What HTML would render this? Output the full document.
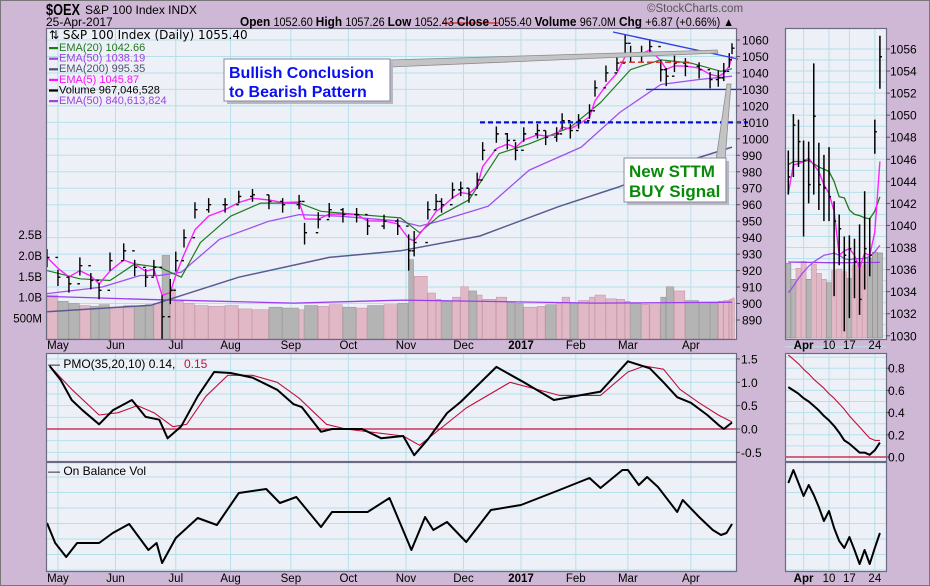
<!DOCTYPE html>
<html><head><meta charset="utf-8">
<style>
html,body{margin:0;padding:0;background:#cfb8d6;}
svg{display:block;font-family:"Liberation Sans",sans-serif;}
</style></head>
<body>
<svg id="chart" width="930" height="586" viewBox="0 0 930 586" xmlns="http://www.w3.org/2000/svg">
<rect x="0" y="0" width="930" height="586" fill="#cfb8d6"/>
<rect x="0.5" y="0.5" width="929" height="585" fill="none" stroke="#777"/>
<g id="layers"></g>
</svg>
<script>
// ---------- DATA ----------
const closeDays = [0,4,8,12,16,19,23,28,32,36,39,42,45,47,50,54,59,65,70,75,81,86,92,94,99,103,108,113,117,123,128,132,134,139,142,144,148,151,154,157,159,164,168,171,174,179,182,186,188,191,194,198,200,204,208,211,213,217,220,224,226,229,233,238,242,245,247,249,250];
const closes = [928,916,912,923,914,908,926,932,922,916,922,892,908,926,940,957,960,960,965,966,962,960,962,943,951,957,954,954,947,950,947,932,937,957,962,960,969,970,966,975,993,1003,999,993,1003,1005,1001,1003,1011,1005,1011,1017,1031,1040,1046,1058,1052,1052,1056,1042,1038,1046,1044,1042,1036,1037,1041,1048,1055];
const ranges = [10,9,9,10,9,9,10,9,9,10,9,26,14,11,10,9,8,8,7,7,8,8,8,12,9,8,8,8,9,8,9,20,14,10,9,8,9,8,8,9,10,9,9,10,8,8,8,8,9,8,8,8,9,9,8,10,9,9,9,12,10,9,10,9,9,9,10,8,6];
const volumes = [1050,900,850,800,780,820,760,800,780,820,850,2000,1200,900,850,800,780,800,720,700,760,740,700,800,780,820,760,740,800,820,850,1900,1500,1100,950,900,1000,1250,1150,1050,950,1000,880,850,760,780,820,860,1000,870,920,1000,1050,960,950,900,850,830,820,1000,1250,1150,920,880,860,900,920,950,980];
const volEmaDays = [0,40,90,130,160,200,230,250];
const volEma = [1020,940,860,930,900,860,870,880];
const ema200Days = [0,38,70,103,129,158,187,209,231,250];
const ema200 = [895,899,916,928,932,941,959,971,985,995];
const ema50Days = [0,20,34,41,49,63,81,92,107,129,136,143,161,176,195,209,224,238,250];
const ema50 = [906,910,917,917,919,939,950,954,953,950,947,950,959,981,995,1016,1033,1036,1038];
const ema20Days = [0,12,23,32,41,49,56,67,78,92,100,114,129,136,143,154,165,176,191,202,213,224,235,246,250];
const ema20 = [920,915,914,924,922,916,937,953,961,961,956,954,952,943,953,963,991,997,1007,1022,1042,1048,1046,1041,1042.6];
const pmoDays = [1,5,9,13,19,24,31,36,41,44,49,55,61,67,75,84,90,93,100,104,115,122,130,134,139,146,151,164,174,185,202,212,220,225,230,235,241,245,247,250];
const pmo = [1.35,1.05,0.62,0.4,0.1,0.4,0.62,0.26,0.2,-0.2,0.06,0.7,1.22,1.2,1.1,0.84,0.53,0.47,-0.06,0,0,-0.2,-0.15,-0.56,-0.22,0.34,0.58,1.33,1.0,0.62,0.8,1.45,1.3,1.0,0.68,0.56,0.3,0.09,0.0,0.14];
const sigDays = [1,9,19,26,33,39,46,51,58,66,75,84,92,102,109,130,136,153,169,187,202,212,218,225,231,238,245,250];
const pmoSignal = [1.35,0.85,0.3,0.35,0.5,0.35,0.05,0.1,0.7,1.15,1.15,1.0,0.66,0.1,0,-0.15,-0.35,0.45,1.0,0.72,0.72,1.22,1.35,1.28,0.85,0.56,0.3,0.15];
const obvDays = [0,3,7,11,19,24,30,37,40,42,47,55,62,70,80,85,91,100,104,117,125,133,138,141,146,153,162,173,187,198,202,210,212,216,219,223,230,232,238,243,246,248,250];
const obv = [12,7,3.5,7,7,9.5,11.75,5.25,7,2,8.25,13.25,11.5,19.5,20.5,17,18.5,11,14.75,14.75,18.25,5.25,13.5,10.25,12.25,7.25,15.25,16.5,20.25,23.25,20.75,25.25,25.25,21.5,23.5,21,14.75,17.75,13.5,10.25,9,9.5,11.75];
const monthDays = [4,25,47,67,89,110,131,152,173,193,212,235];
const monthLabels = ["May","Jun","Jul","Aug","Sep","Oct","Nov","Dec","2017","Feb","Mar","Apr"];
const priceTicks = [1060,1050,1040,1030,1020,1010,1000,990,980,970,960,950,940,930,920,910,900,890];
const volTickVals = [2500,2000,1500,1000,500];
const volTickLabels = ["2.5B","2.0B","1.5B","1.0B","500M"];
const pmoTicks = [1.5,1.0,0.5,0.0,-0.5];
// right (zoom) panel
const rHighs = [1046.8,1050.1,1049.6,1047.7,1047.6,1054.7,1047.5,1046.4,1047.1,1042.2,1041,1039,1039.1,1038.8,1040.1,1043.1,1040.7,1049.6,1057.2];
const rLows = [1042.8,1044.4,1045.3,1039,1042,1042.8,1041.4,1040.4,1040.4,1033.6,1036.4,1030.4,1031.6,1033.4,1031.9,1034.2,1035.4,1046.5,1052.4];
const rCloses = [1044.4,1049.1,1047.6,1045.9,1043.7,1049.9,1043.7,1043.4,1042.6,1040.4,1039.7,1037.3,1037.9,1036.7,1033.3,1037.9,1037.3,1048.5,1055.3];
const rEma5 = [1042.9,1045.5,1045.6,1045.8,1046.1,1045.5,1044.9,1043.7,1042.9,1041.3,1037.3,1037.7,1037.9,1037.3,1036.1,1037.5,1037.3,1039.4,1045.8];
const rEma20 = [1045.5,1045.8,1045.8,1045.8,1045.9,1045.6,1045.3,1045.1,1044.9,1044.0,1042.6,1042.5,1041.4,1041.0,1040.9,1040.7,1040.6,1041.3,1042.6];
const rEma50 = [1033.9,1034.5,1035.2,1035.8,1036.3,1036.7,1037.0,1037.3,1037.4,1037.5,1037.3,1037.0,1036.9,1037.0,1037.0,1037.0,1037.2,1037.6,1038.2];
const rVolumes = [880,690,820,900,690,870,760,690,650,790,810,780,700,860,840,860,940,1010,1000];
const rVolUp = [0,0,1,1,0,1,1,1,0,1,1,1,0,1,1,1,0,0,0];
const rVolEma = [894,893,892,891,890,889,888,887,886,886,886,886,886,886,887,887,888,888,889];
const rPmo = [0.63,0.6,0.57,0.53,0.5,0.46,0.42,0.37,0.33,0.28,0.22,0.15,0.12,0.08,0.04,0.04,0.02,0.06,0.13];
const rSignal = [0.92,0.88,0.84,0.79,0.75,0.7,0.66,0.62,0.57,0.53,0.48,0.43,0.37,0.32,0.27,0.22,0.17,0.15,0.15];
const rObv = [22,25.25,22,18.75,21.5,19,16,12.5,15,10.75,7.5,5.75,8.5,5.25,1.75,5.25,1.75,5.75,9.5];
const rDayTicks = [3,8,12,17];
const rDayLabels = ["Apr","10","17","24"];
const rPriceTicks = [1056,1054,1052,1050,1048,1046,1044,1042,1040,1038,1036,1034,1032,1030];
const rPmoTicks = [0.8,0.6,0.4,0.2,0.0];

// ---------- SCALES ----------
const M = {l:46,r:736,t:28,b:339};
const P = {t:353,b:461}, O = {t:462,b:571};
const R = {l:785,r:886};
const xD = d => 47 + d*2.74;
const yP = v => 40 + (1060 - v)*1.647;
const yV = v => 339 - v*0.0418;
const yPmo = v => 429 - v*46.7;
const yObv = v => 571 - v*4;
const xR = i => 788.3 + i*5.09;
const yRP = v => 49 + (1056 - v)*11.03;
const yRV = v => 338 - v*0.085;
const yRPmo = v => 457 - v*111;
const yRObv = v => 571 - v*4;

const NS = "http://www.w3.org/2000/svg";
const root = document.getElementById('layers');
function mk(tag, attrs, parent){
  const e = document.createElementNS(NS, tag);
  for (const k in attrs) e.setAttribute(k, attrs[k]);
  (parent||root).appendChild(e);
  return e;
}
function pathFrom(xs, ys){ return xs.map((x,i)=>(i?'L':'M')+x.toFixed(1)+','+ys[i].toFixed(1)).join(''); }

const defs = mk('defs',{});
[['cm',M.l,M.t,M.r-M.l,M.b-M.t],['cp',M.l,P.t,M.r-M.l,P.b-P.t],['co',M.l,O.t,M.r-M.l,O.b-O.t],
 ['rm',R.l,M.t,R.r-R.l,M.b-M.t],['rp',R.l,P.t,R.r-R.l,P.b-P.t],['ro',R.l,O.t,R.r-R.l,O.b-O.t]].forEach(c=>{
  const cp = mk('clipPath',{id:c[0]},defs); mk('rect',{x:c[1],y:c[2],width:c[3],height:c[4]},cp);
});

function panel(name,x1,y1,x2,y2){
  const r = mk('rect',{x:x1,y:y1,width:x2-x1,height:y2-y1,fill:'#eef0f8'});
  
  
}
panel('price-panel',M.l,M.t,M.r,M.b); panel('pmo-panel',M.l,P.t,M.r,P.b); panel('obv-panel',M.l,O.t,M.r,O.b);
panel('zoom-price-panel',R.l,M.t,R.r,M.b); panel('zoom-pmo-panel',R.l,P.t,R.r,P.b); panel('zoom-obv-panel',R.l,O.t,R.r,O.b);

const grid = mk('g',{stroke:'#b5e0ea','stroke-width':1});


priceTicks.forEach(v=>mk('line',{x1:M.l,x2:M.r,y1:yP(v),y2:yP(v)},grid));
for(let v=-0.5; v<=1.51; v+=0.25) mk('line',{x1:M.l,x2:M.r,y1:yPmo(v),y2:yPmo(v)},grid);
for(let y=O.t+15; y<O.b; y+=15.5) mk('line',{x1:M.l,x2:M.r,y1:y,y2:y},grid);
monthDays.forEach(d=>{
  [[M.t,M.b],[P.t,P.b],[O.t,O.b]].forEach(p=>mk('line',{x1:xD(d),x2:xD(d),y1:p[0],y2:p[1]},grid));
});
rPriceTicks.forEach(v=>mk('line',{x1:R.l,x2:R.r,y1:yRP(v),y2:yRP(v)},grid));
rPriceTicks.forEach(v=>mk('line',{x1:R.l,x2:R.r,y1:yRP(v-1),y2:yRP(v-1)},grid));
for(let v=0; v<=0.91; v+=0.1) mk('line',{x1:R.l,x2:R.r,y1:yRPmo(v),y2:yRPmo(v)},grid);
for(let y=O.t+15; y<O.b; y+=15.5) mk('line',{x1:R.l,x2:R.r,y1:y,y2:y},grid);
rDayTicks.forEach(i=>{
  [[M.t,M.b],[P.t,P.b],[O.t,O.b]].forEach(p=>mk('line',{x1:xR(i),x2:xR(i),y1:p[0],y2:p[1]},grid));
});

// ---------- MAIN PRICE PANEL ----------
const gm = mk('g',{'clip-path':'url(#cm)'});
const gVol = mk('g',{},gm);


volumes.forEach((v,i)=>{
  const x0 = xD(closeDays[i]);
  const x1 = i<closeDays.length-1 ? xD(closeDays[i+1]) : x0+3;
  const up = i===0 || closes[i]>=closes[i-1];
  const b = mk('rect',{x:x0,y:yV(v),width:Math.max(2,x1-x0-0.6),height:339-yV(v),fill:up?'#e0b8c6':'#b4b4b4',stroke:up?'#c898a8':'#999','stroke-width':0.6},gVol);
  
  
});
function line(parent,name,xs,ys,color,w,extra){
  const p = mk('path',Object.assign({d:pathFrom(xs,ys),fill:'none',stroke:color,'stroke-width':w,'stroke-linejoin':'round'},extra||{}),parent);
  
  
  return p;
}
line(gm,'volume-ema50-line',volEmaDays.map(xD),volEma.map(yV),'#9a3cf0',1.3);
line(gm,'ema200-line',ema200Days.map(xD),ema200.map(yP),'#5a5a90',1.5);
line(gm,'ema50-line',ema50Days.map(xD),ema50.map(yP),'#a050f0',1.3);
line(gm,'ema20-line',ema20Days.map(xD),ema20.map(yP),'#1f7a1f',1.2);
const ema5 = []; closes.forEach((c,i)=>ema5.push(i? ema5[i-1]+0.55*(c-ema5[i-1]) : c));
line(gm,'ema5-line',closeDays.map(xD),ema5.map(yP),'#ff20ff',1.4);
const gBars = mk('g',{stroke:'#000','stroke-width':1.4},gm);


closes.forEach((c,i)=>{
  const x = xD(closeDays[i]);
  const hi = c + ranges[i]*0.5, lo = c - ranges[i]*0.6;
  const b = mk('path',{d:`M${x},${yP(hi)}V${yP(lo)}M${x},${yP(c)}h2.5M${x-2.5},${yP(i?closes[i-1]:c)}h2.5`},gBars);
  
  
});

const ga = mk('g',{});


const a1 = mk('line',{x1:480,y1:yP(1010),x2:748,y2:yP(1010),stroke:'#1010d0','stroke-width':2.2,'stroke-dasharray':'5,3'},ga);
 
const a2 = mk('line',{x1:620,y1:yP(1046.5),x2:690,y2:yP(1046.5),stroke:'#e02020','stroke-width':1.4,'stroke-dasharray':'6,3'},ga);
 
const a3 = mk('line',{x1:646,y1:yP(1030),x2:742,y2:yP(1030),stroke:'#1030c0','stroke-width':1.4},ga);
 
const a4 = mk('line',{x1:613,y1:32,x2:738,y2:59,stroke:'#3040e0','stroke-width':1.4},ga);
 
const p1 = mk('polygon',{points:'390,60 717,50 718,53 390,67',fill:'#c4c4c4',stroke:'#8a8a8a','stroke-width':0.8},ga);
 
const p2 = mk('polygon',{points:'716,160 727,84 731,84 725,160',fill:'#c4c4c4',stroke:'#8a8a8a','stroke-width':0.8},ga);
 
const red = mk('line',{x1:442,y1:23,x2:500,y2:23,stroke:'#e02020','stroke-width':1.2},ga);
 

// ---------- PMO ----------
const gp = mk('g',{'clip-path':'url(#cp)'});
const zl = mk('line',{x1:M.l,x2:M.r,y1:yPmo(0),y2:yPmo(0),stroke:'#c0103c','stroke-width':1.2},gp);
 
line(gp,'pmo-signal-line',sigDays.map(xD),pmoSignal.map(yPmo),'#c0103c',1.1);
line(gp,'pmo-line',pmoDays.map(xD),pmo.map(yPmo),'#000',2);
const go = mk('g',{'clip-path':'url(#co)'});
line(go,'obv-line',obvDays.map(xD),obv.map(yObv),'#000',2);

// ---------- RIGHT ZOOM PANELS ----------
const gr = mk('g',{'clip-path':'url(#rm)'});
rVolumes.forEach((v,i)=>{
  const b = mk('rect',{x:xR(i)-2.5,y:yRV(v),width:5.09,height:338-yRV(v),fill:rVolUp[i]?'#e0b8c6':'#b4b4b4',stroke:rVolUp[i]?'#c898a8':'#888','stroke-width':0.6},gr);
  
  
});
const ri = rCloses.map((_,i)=>xR(i));
line(gr,'zoom-volume-ema-line',ri,rVolEma.map(yRV),'#9a3cf0',1.3);
line(gr,'zoom-ema50-line',ri,rEma50.map(yRP),'#a050f0',1.3);
line(gr,'zoom-ema20-line',ri,rEma20.map(yRP),'#1f7a1f',1.3);
line(gr,'zoom-ema5-line',ri,rEma5.map(yRP),'#ff20ff',1.4);
const gRB = mk('g',{stroke:'#000','stroke-width':1.5},gr);


rCloses.forEach((c,i)=>{
  const x = xR(i);
  const b = mk('path',{d:`M${x},${yRP(rHighs[i])}V${yRP(rLows[i])}M${x},${yRP(c)}h2`},gRB);
  
  
});
const grp = mk('g',{'clip-path':'url(#rp)'});
const rz = mk('line',{x1:R.l,x2:R.r,y1:yRPmo(0),y2:yRPmo(0),stroke:'#c0103c','stroke-width':1.2},grp);
 
line(grp,'zoom-pmo-signal-line',ri,rSignal.map(yRPmo),'#c0103c',1.1);
line(grp,'zoom-pmo-line',ri,rPmo.map(yRPmo),'#000',2);
const gro = mk('g',{'clip-path':'url(#ro)'});
line(gro,'zoom-obv-line',ri,rObv.map(yRObv),'#000',2);

[[M.l,M.t,M.r,M.b],[M.l,P.t,M.r,P.b],[M.l,O.t,M.r,O.b],[R.l,M.t,R.r,M.b],[R.l,P.t,R.r,P.b],[R.l,O.t,R.r,O.b]].forEach(p=>{
  const b = mk('rect',{x:p[0]+0.5,y:p[1]+0.5,width:p[2]-p[0],height:p[3]-p[1],fill:'none',stroke:'#6a6a80','stroke-width':1.2});
  
  
});

// ---------- AXES TEXT ----------
function txt(name,x,y,s,attrs){
  const t = mk('text',Object.assign({x:x,y:y,'font-size':12,fill:'#000'},attrs||{}));
  t.textContent = s;
  
  
  return t;
}
priceTicks.forEach(v=>{ mk('line',{x1:M.r,x2:M.r+4,y1:yP(v),y2:yP(v),stroke:'#555'}); txt('price-tick-label',742,yP(v)+4.5,String(v),{'font-size':12}); });
volTickVals.forEach((v,i)=>{ txt('volume-tick-label',42,yV(v)+4.5,volTickLabels[i],{'text-anchor':'end','font-size':11.5}); });
pmoTicks.forEach(v=>{ mk('line',{x1:M.r,x2:M.r+4,y1:yPmo(v),y2:yPmo(v),stroke:'#555'}); txt('pmo-tick-label',741,yPmo(v)+4.5,v.toFixed(1),{'font-size':12}); });
monthDays.forEach((d,i)=>{
  const bold = monthLabels[i]==='2017' ? {'font-weight':'bold'} : {};
  txt('x-axis-month-label',xD(d),349,monthLabels[i],Object.assign({'text-anchor':'middle','font-size':11.5},bold));
  txt('x-axis-month-label',xD(d),582,monthLabels[i],Object.assign({'text-anchor':'middle','font-size':11.5},bold));
});
rPriceTicks.forEach(v=>{ mk('line',{x1:R.r,x2:R.r+4,y1:yRP(v),y2:yRP(v),stroke:'#555'}); txt('zoom-price-tick-label',890,yRP(v)+4.5,String(v),{'font-size':12}); });
rPmoTicks.forEach(v=>{ mk('line',{x1:R.r,x2:R.r+4,y1:yRPmo(v),y2:yRPmo(v),stroke:'#555'}); txt('zoom-pmo-tick-label',888,yRPmo(v)+4.5,v.toFixed(1),{'font-size':12}); });
rDayTicks.forEach((d,i)=>{
  const bold = i===0 ? {'font-weight':'bold'} : {};
  txt('zoom-x-axis-label',xR(d),349,rDayLabels[i],Object.assign({'text-anchor':'middle','font-size':11.5},bold));
  txt('zoom-x-axis-label',xR(d),582,rDayLabels[i],Object.assign({'text-anchor':'middle','font-size':11.5},bold));
});

txt('price-legend-title',49,39,'\u21C5 S&P 100 Index (Daily) 1055.40',{'font-size':12,'font-family':'"DejaVu Sans",sans-serif'});
const legends = [['EMA(20) 1042.66','#1f7a1f'],['EMA(50) 1038.19','#a040e0'],['EMA(200) 995.35','#505070'],['EMA(5) 1045.87','#ff10ff'],['Volume 967,046,528','#000'],['EMA(50) 840,613,824','#a040e0']];
legends.forEach((l,i)=>{
  const y = 51 + i*10.6;
  mk('rect',{x:49,y:y-4,width:9,height:2.2,fill:l[1]});
  txt('legend-entry',59,y,l[0],{'font-size':11,fill:l[1]});
});
txt('pmo-legend',48,368,'\u2014 PMO(35,20,10) 0.14, ',{'font-size':12});
txt('pmo-signal-legend',184,368,'0.15',{'font-size':12,fill:'#c0103c'});
txt('obv-legend',48,475,'\u2014 On Balance Vol',{'font-size':12});

txt('ticker-title',46,15,'$OEX',{'font-size':16,'font-weight':'bold',textLength:34,lengthAdjust:'spacingAndGlyphs'});
txt('ticker-name',85,14,'S&P 100 Index  INDX',{'font-size':12});
txt('date-label',46,26,'25-Apr-2017',{'font-size':12});
txt('watermark',647,12,'\u00A9StockCharts.com',{'font-size':11.5,fill:'#555'});
const hdr = txt('ohlc-header',240,26,'',{'font-size':11.5,textLength:494,lengthAdjust:'spacingAndGlyphs'});
[['Open ',1],['1052.60  ',0],['High ',1],['1057.26  ',0],['Low ',1],['1052.43  ',0],['Close ',1],['1055.40  ',0],['Volume ',1],['967.0M  ',0],['Chg ',1],['+6.87 (+0.66%) \u25B2',0]].forEach(s=>{
  const t = mk('tspan',s[1]?{'font-weight':'bold','font-size':12.5}:{},hdr); t.textContent = s[0];
});

function callout(name,x,y,w,h,lines,color,fs){
  const g = mk('g',{});
  
  
  mk('rect',{x:x+3,y:y+3,width:w,height:h,fill:'#b8b8c0'},g);
  mk('rect',{x:x,y:y,width:w,height:h,fill:'#fff',stroke:'#8888a0','stroke-width':1},g);
  lines.forEach((s,i)=>{ const t = mk('text',{x:x+5,y:y+19+i*(fs+3),'font-size':fs,'font-weight':'bold',fill:color},g); t.textContent=s; });
}
callout('bullish-conclusion-callout',224,59,166,42,['Bullish Conclusion','to Bearish Pattern'],'#0a10f0',16);
callout('sttm-buy-callout',624,158,102,44,['New STTM','BUY Signal'],'#0a8a0a',17);
</script>
</body></html>
